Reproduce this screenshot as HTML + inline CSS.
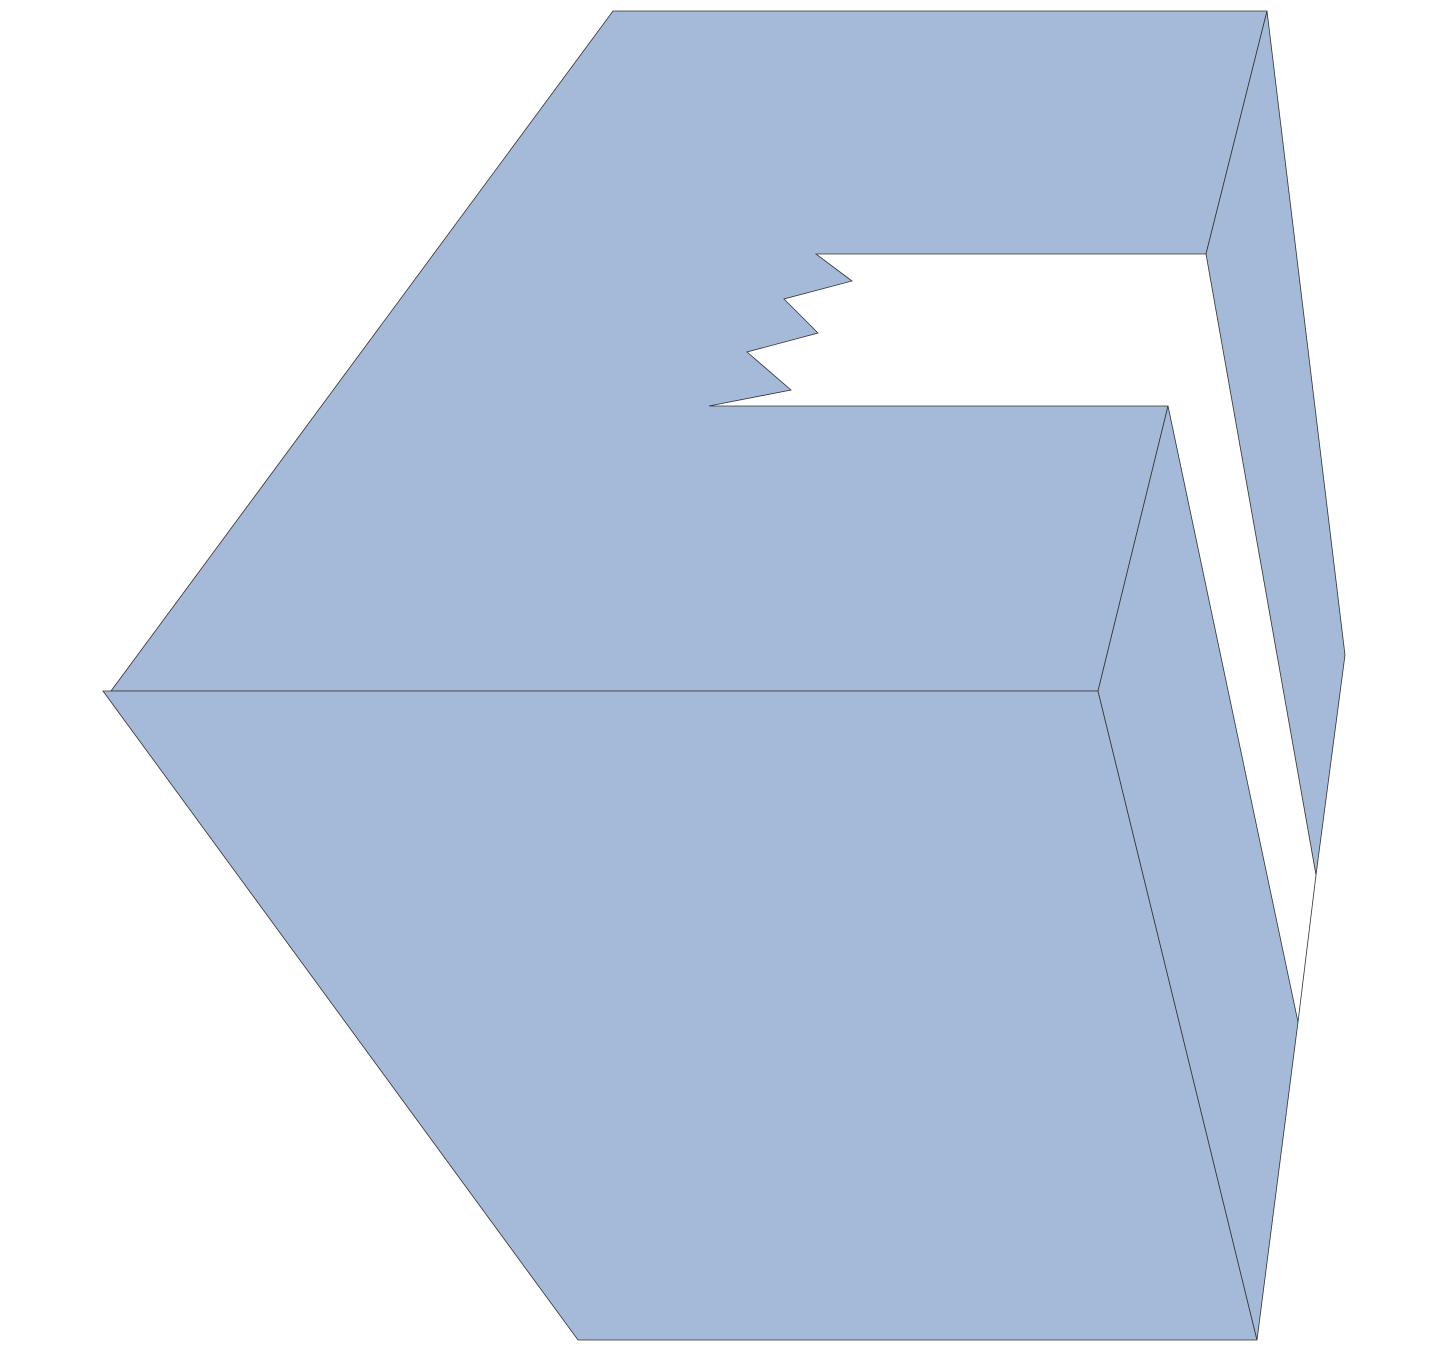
<!DOCTYPE html>
<html>
<head>
<meta charset="utf-8">
<style>
  html, body { margin: 0; padding: 0; background: #ffffff; }
  svg { display: block; }
</style>
</head>
<body>
<svg width="1451" height="1352" viewBox="0 0 1451 1352" xmlns="http://www.w3.org/2000/svg">
  <g fill="#a5b9d8" stroke="#333333" stroke-width="0.8" stroke-linejoin="miter">
    <polygon
      points="613,11 1267,11 1206,254 816,254 852,281 784,299 818,333 747,352 791,390 709,406 1168,406 1098,691 111,691"/>
    <polygon
      points="1267,11 1345,655 1316,875 1206,254"/>
    <polygon
      points="103,691 1098,691 1257,1340 578,1340"/>
    <polygon
      points="1168,406 1298,1022 1257,1340 1098,691"/>
    <line x1="1316" y1="875" x2="1298" y2="1022"/>
  </g>
</svg>
</body>
</html>
